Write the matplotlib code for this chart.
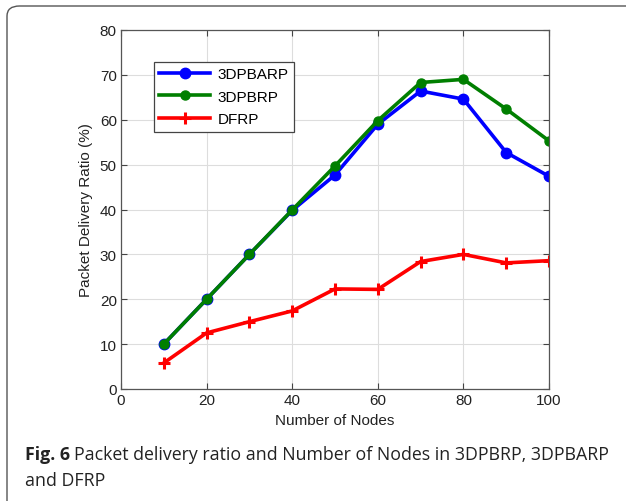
import matplotlib
matplotlib.use("Agg")
import matplotlib.pyplot as plt
from matplotlib.patches import FancyBboxPatch

nodes = [10, 20, 30, 40, 50, 60, 70, 80, 90, 100]
pbarp = [10.0, 20.0, 30.0, 39.8, 47.7, 59.0, 66.4, 64.6, 52.7, 47.4]
pbrp = [10.0, 20.0, 30.0, 39.9, 49.7, 59.8, 68.3, 69.0, 62.4, 55.3]
dfrp = [5.8, 12.5, 15.0, 17.4, 22.3, 22.2, 28.4, 30.0, 28.1, 28.6]
xticks = [0, 20, 40, 60, 80, 100]
yticks = [0, 10, 20, 30, 40, 50, 60, 70, 80]
cap_bold = 'Fig. 6'
cap_line1 = 'Packet delivery ratio and Number of Nodes in 3DPBRP, 3DPBARP'
cap_line2 = 'and DFRP'

W, H = 626, 502
plt.rcParams['font.family'] = ['Liberation Sans', 'DejaVu Sans']
fig = plt.figure(figsize=(W / 100, H / 100), dpi=100)

# border box
box = FancyBboxPatch((7 / W, -0.2), 1.2, (H - 7) / H + 0.2,
                     boxstyle="round,pad=0,rounding_size=0.02",
                     transform=fig.transFigure, fill=False,
                     edgecolor='#555555', linewidth=1.0)
fig.patches.append(box)

ax = fig.add_axes([121 / W, 1 - 390 / H, (549 - 121) / W, (390 - 31) / H])
ax.plot(nodes, pbarp, '-o', color='#0000ff', lw=2.6, ms=7.5, label='3DPBARP')
ax.plot(nodes, pbrp, '-o', color='#007f00', lw=2.6, ms=6.5, label='3DPBRP')
ax.plot(nodes, dfrp, '-+', color='#ff0000', lw=2.6, ms=8, mew=2.2, label='DFRP')

ax.set_xlim(0, 100)
ax.set_ylim(0, 80)
ax.set_xticks(xticks)
ax.set_yticks(yticks)
ax.grid(True, color='#dddddd', lw=0.8)
ax.set_axisbelow(True)
ax.tick_params(direction='in', top=True, right=True, length=4,
               labelsize=11, color='#444444', labelcolor='#222222', pad=3)
for s in ax.spines.values():
    s.set_color('#555555')
    s.set_linewidth(0.9)
ax.set_xlabel('Number of Nodes', fontsize=11, labelpad=4, color='#222222')
ax.set_ylabel('Packet Delivery Ratio (%)', fontsize=11, labelpad=5, color='#222222')

leg = ax.legend(loc='upper left', bbox_to_anchor=(33 / 428, 1 - 32 / 359),
                borderaxespad=0, fontsize=11, handlelength=3.3, fancybox=False,
                framealpha=1, edgecolor='#444444', borderpad=0.35,
                labelspacing=0.55, handletextpad=0.5)
leg.get_frame().set_linewidth(0.9)

# caption
fig.canvas.draw()
r = fig.canvas.get_renderer()
fs = 12.8
tb = fig.text(25 / W, 1 - 460 / H, cap_bold, fontsize=fs, fontweight='bold',
              va='baseline', ha='left', family='Open Sans', color='#222222')
bb = tb.get_window_extent(r)
x1 = bb.x1 + 4
fig.text(x1 / W, 1 - 460 / H, cap_line1, fontsize=fs,
         va='baseline', ha='left', family='Open Sans', color='#222222')
fig.text(25 / W, 1 - 486 / H, cap_line2, fontsize=fs,
         va='baseline', ha='left', family='Open Sans', color='#222222')

fig.savefig('out.png', dpi=100)
